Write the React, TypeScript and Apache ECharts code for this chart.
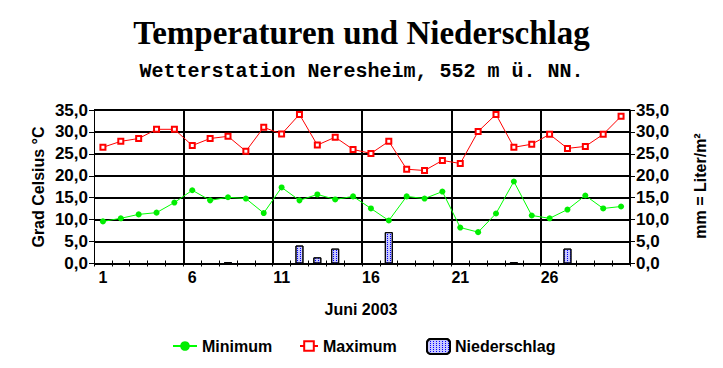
import React, { useEffect, useRef } from "react";
import * as echarts from "echarts";

const days = Array.from({ length: 30 }, (_, i) => String(i + 1));
const minimum = [9.6, 10.3, 11.2, 11.6, 13.9, 16.7, 14.4, 15.1, 14.8, 11.5, 17.35, 14.4, 15.75, 14.6, 15.3, 12.55, 9.8, 15.3, 14.8, 16.4, 8.2, 7.15, 11.4, 18.7, 10.95, 10.3, 12.3, 15.5, 12.55, 13.0];
const maximum = [26.5, 27.85, 28.5, 30.6, 30.6, 26.9, 28.5, 29.0, 25.6, 31.05, 29.5, 34.0, 27.0, 28.8, 26.0, 25.1, 27.85, 21.5, 21.2, 23.5, 22.8, 30.1, 34.0, 26.5, 27.2, 29.45, 26.25, 26.7, 29.45, 33.55];
const precipitation = [0, 0, 0, 0, 0, 0, 0, 0.3, 0, 0, 0, 4.1, 1.4, 3.4, 0, 0, 7.15, 0, 0, 0, 0, 0, 0, 0.3, 0, 0, 3.4, 0, 0, 0];

const FONT = "Liberation Sans, Arial, sans-serif";
const fmt = (v: number) => v.toFixed(1).replace(".", ",");

export default function App() {
  const ref = useRef<HTMLDivElement>(null);
  useEffect(() => {
    if (!ref.current) return;
    const chart = echarts.init(ref.current, undefined, { renderer: "svg" });
    const yCommon = {
      type: "value",
      min: 0,
      max: 35,
      interval: 5,
      axisLine: { show: true, lineStyle: { color: "#000", width: 1 } },
      axisTick: { show: true, length: 5, lineStyle: { color: "#000" } },
      axisLabel: { formatter: fmt, color: "#000", fontFamily: FONT, fontWeight: "bold", fontSize: 17, margin: 6 },
    };
    const decal = {
      symbol: "rect",
      symbolSize: 1,
      color: "#0000ff",
      dashArrayX: [1, 2],
      dashArrayY: [1, 1],
      rotation: 0,
    };
    chart.setOption({
      animation: false,
      backgroundColor: "#fff",
      grid: { left: 94, right: 93, top: 110, bottom: 104.5, containLabel: false },
      xAxis: [
        {
          type: "category",
          data: days,
          boundaryGap: true,
          axisLine: { lineStyle: { color: "#000", width: 1 } },
          axisTick: { show: true, interval: 0, length: 3, lineStyle: { color: "#000" } },
          axisLabel: { interval: 4, color: "#000", fontFamily: FONT, fontWeight: "bold", fontSize: 16, margin: 6 },
          splitLine: {
            show: true,
            interval: (i: number) => i > 0 && i % 5 === 0,
            lineStyle: { color: "#000", width: 2 },
          },
        },
        {
          type: "category",
          data: days,
          position: "bottom",
          boundaryGap: true,
          axisLine: { show: false },
          axisTick: { show: true, inside: true, interval: 0, length: 3, lineStyle: { color: "#000" } },
          axisLabel: { show: false },
          splitLine: { show: false },
        },
      ],
      yAxis: [
        { ...yCommon, position: "left", splitLine: { show: true, lineStyle: { color: "#000", width: 2 } } },
        { ...yCommon, position: "right", splitLine: { show: false } },
      ],
      legend: [
        {
          data: ["Minimum"], left: 167, top: 333, itemWidth: 24, itemHeight: 12, itemGap: 8,
          textStyle: { color: "#000", fontFamily: FONT, fontWeight: "bold", fontSize: 16 },
        },
        {
          data: ["Maximum"], left: 294, top: 333, itemWidth: 18, itemHeight: 12, itemGap: 12,
          textStyle: { color: "#000", fontFamily: FONT, fontWeight: "bold", fontSize: 16 },
        },
        {
          data: ["Niederschlag"], left: 421, top: 333, itemWidth: 23, itemHeight: 15, itemGap: 8,
          textStyle: { color: "#000", fontFamily: FONT, fontWeight: "bold", fontSize: 16 },
        },
      ],
      series: [
        {
          name: "Niederschlag",
          type: "bar",
          xAxisIndex: 0,
          yAxisIndex: 1,
          data: precipitation,
          barWidth: 8,
          itemStyle: {
            color: "#c8c8ff",
            borderColor: "#000",
            borderWidth: 1,
            decal,
          },
          z: 1,
        },
        {
          name: "Minimum",
          type: "line",
          xAxisIndex: 0,
          yAxisIndex: 0,
          data: minimum,
          symbol: "circle",
          symbolSize: 6,
          lineStyle: { color: "#00ff00", width: 1 },
          itemStyle: { color: "#00ee00" },
          z: 3,
        },
        {
          name: "Maximum",
          type: "line",
          xAxisIndex: 0,
          yAxisIndex: 0,
          data: maximum,
          symbol: "emptyRect",
          symbolSize: 5,
          lineStyle: { color: "#ff0000", width: 1 },
          itemStyle: { color: "#ff0000", borderColor: "#ff0000", borderWidth: 1 },
          z: 3,
        },
      ],
      graphic: [
        {
          type: "text", left: "center", top: 16,
          style: { text: "Temperaturen und Niederschlag", font: 'bold 33px "Liberation Serif", "Times New Roman", serif', fill: "#000" },
        },
        {
          type: "text", left: "center", top: 61,
          style: { text: "Wetterstation Neresheim, 552 m ü. NN.", font: 'bold 20px "Liberation Mono", "Courier New", monospace', fill: "#000" },
        },
        {
          type: "text", x: 361, y: 309,
          style: { text: "Juni 2003", font: `bold 16px ${FONT}`, fill: "#000", textAlign: "center", textVerticalAlign: "middle" },
        },
        {
          type: "text", x: 38, y: 187, rotation: Math.PI / 2,
          style: { text: "Grad Celsius °C", font: `bold 16px ${FONT}`, fill: "#000", textAlign: "center", textVerticalAlign: "middle" },
        },
        {
          type: "text", x: 700, y: 186, rotation: Math.PI / 2,
          style: { text: "mm = Liter/m²", font: `bold 16px ${FONT}`, fill: "#000", textAlign: "center", textVerticalAlign: "middle" },
        },
      ],
    });
    return () => chart.dispose();
  }, []);
  return <div ref={ref} style={{ width: 723, height: 368, position: "absolute", left: 0, top: 0 }} />;
}
